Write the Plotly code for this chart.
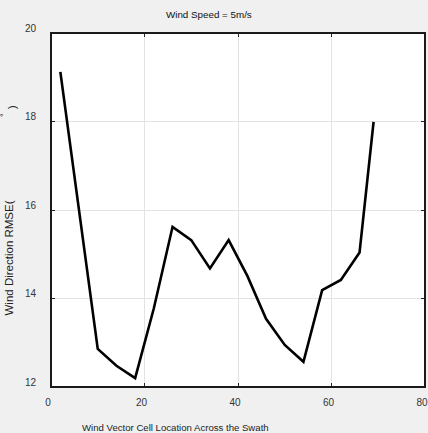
import plotly.graph_objects as go

cell_x = [2, 6, 10, 14, 18, 22, 26, 30, 34, 38, 42, 46, 50, 54, 58, 62, 66, 69]
rmse = [19.12, 15.95, 12.86, 12.48, 12.2, 13.78, 15.62, 15.32, 14.68, 15.32,
        14.51, 13.54, 12.95, 12.57, 14.19, 14.42, 15.04, 17.99]

title_text = "Wind Speed = 5m/s"
x_title = "Wind Vector Cell Location Across the Swath"
y_title = "Wind Direction RMSE("
x_ticks = [0, 20, 40, 60, 80]
y_ticks = [12, 14, 16, 18, 20]

REG = "Liberation Sans, Arial, sans-serif"

fig = go.Figure()
fig.add_trace(go.Scatter(x=cell_x, y=rmse, mode="lines",
                         line=dict(color="black", width=2.6), showlegend=False))

axis_common = dict(showline=True, linecolor="#262626", linewidth=1, mirror="ticks",
                   ticks="inside", ticklen=4, tickcolor="#262626",
                   showgrid=True, gridcolor="#e3e3e3", gridwidth=1, zeroline=False,
                   ticklabeloverflow="allow", automargin=False,
                   tickfont=dict(family=REG, size=10, color="#333333"))

fig.update_xaxes(range=[0, 80], tickvals=x_ticks, ticklabelstandoff=6,
                 ticklabelshift=-3, **axis_common)
fig.update_yaxes(range=[12, 20], tickvals=y_ticks, ticklabelstandoff=12,
                 ticklabelshift=-5, **axis_common)

fig.update_layout(
    width=428, height=433,
    margin=dict(l=51, r=3, t=33, b=46, autoexpand=False),
    paper_bgcolor="#f0f0f0", plot_bgcolor="white",
    shapes=[dict(type="rect", xref="paper", yref="paper", x0=0, x1=1, y0=0, y1=1,
                 line=dict(color="#1a1a1a", width=2), layer="above")],
    annotations=[
        dict(text=title_text, xref="paper", yref="paper", x=(209 - 51) / 374, y=1,
             yshift=19, xanchor="center", yanchor="middle", showarrow=False,
             font=dict(family=REG, size=9.8, color="#111111")),
        dict(text=x_title, xref="paper", yref="paper", x=(175 - 51) / 374, y=0,
             yshift=-40, xanchor="center", yanchor="middle", showarrow=False,
             font=dict(family=REG, size=9.6, color="#222222")),
        dict(text=y_title, xref="paper", yref="paper", x=0, xshift=-43,
             y=(387 - 258.5) / 354, xanchor="center", yanchor="middle",
             textangle=-90, showarrow=False,
             font=dict(family=REG, size=11.5, color="#222222")),
        dict(text="°", xref="paper", yref="paper", x=0, xshift=-47,
             y=(387 - 115) / 354, xanchor="center", yanchor="middle",
             textangle=-90, showarrow=False,
             font=dict(family=REG, size=9, color="#222222")),
        dict(text=")", xref="paper", yref="paper", x=0, xshift=-39,
             y=(387 - 107) / 354, xanchor="center", yanchor="middle",
             textangle=-90, showarrow=False,
             font=dict(family=REG, size=11.5, color="#222222")),
    ],
)

fig.write_html("out.html")
